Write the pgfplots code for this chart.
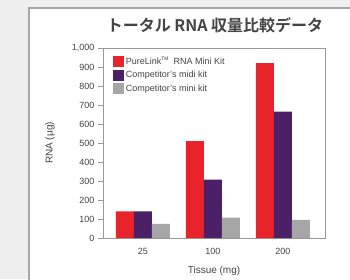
\documentclass[border=0pt]{standalone}
\usepackage{fontspec}
\setmainfont{Liberation Sans}
\newfontfamily\cjk{Noto Sans CJK JP}[BoldFont={Noto Sans CJK JP Bold}]
\usepackage{pgfplots}
\pgfplotsset{compat=1.18}
\definecolor{bgray}{HTML}{EEEEEE}
\definecolor{pred}{HTML}{E8232A}
\definecolor{ppurple}{HTML}{4B2067}
\definecolor{pgray}{HTML}{A6A6A6}
\definecolor{txt}{HTML}{444444}
\begin{document}
\begin{tikzpicture}[x=1pt,y=1pt]
\useasboundingbox (0,0) rectangle (350,279);
\clip (0,0) rectangle (350,279);
\fill[bgray] (0,0) rectangle (350,279);
\filldraw[fill=white, draw=gray!70, line width=1.2pt] (29,-10) rectangle (360,271);
\node[font=\cjk\bfseries\fontsize{16}{18}\selectfont, text=txt] at (215,254) {トータル RNA 収量比較データ};
\begin{axis}[
  at={(103pt,41pt)}, anchor=south west,
  scale only axis, width=222pt, height=190pt,
  ymin=0, ymax=1000,
  xmin=-0.571, xmax=2.6,
  ytick={0,100,...,1000},
  yticklabels={0,100,200,300,400,500,600,700,800,900,{1,000}},
  xtick={0,1,2}, xticklabels={25,100,200},
  ybar=0pt, bar width=18pt,
  axis line style={draw=gray!80, line width=0.8pt},
  ytick pos=left, tick align=outside,
  major tick length=5pt,
  xtick style={draw=none},
  ytick style={draw=gray!80, line width=0.8pt},
  tick label style={font=\fontsize{9}{10}\selectfont, text=txt},
  xticklabel style={yshift=-2pt},
  ylabel={RNA (µg)}, xlabel={Tissue (mg)},
  label style={font=\fontsize{10}{12}\selectfont, text=txt},
  ylabel style={at={(axis description cs:-0.239,0.5)}, anchor=center},
  xlabel style={at={(axis description cs:0.5,-0.175)}, anchor=center},
  legend style={at={(0.03,0.975)}, anchor=north west, draw=none, fill=none,
    font=\fontsize{9}{10}\selectfont, text=txt, row sep=1.5pt},
  legend cell align=left,
  legend image code/.code={\fill[#1] (0pt,-5.5pt) rectangle (11pt,5.5pt);},
]
\addplot[fill=pred, draw=none] coordinates {(0,140) (1,510) (2,920)};
\addplot[fill=ppurple, draw=none] coordinates {(0,140) (1,307) (2,665)};
\addplot[fill=pgray, draw=none] coordinates {(0,75) (1,107) (2,96)};
\legend{PureLink\textsuperscript{\tiny TM}\enspace RNA Mini Kit, Competitor's midi kit, Competitor's mini kit}
\end{axis}
\end{tikzpicture}
\end{document}
